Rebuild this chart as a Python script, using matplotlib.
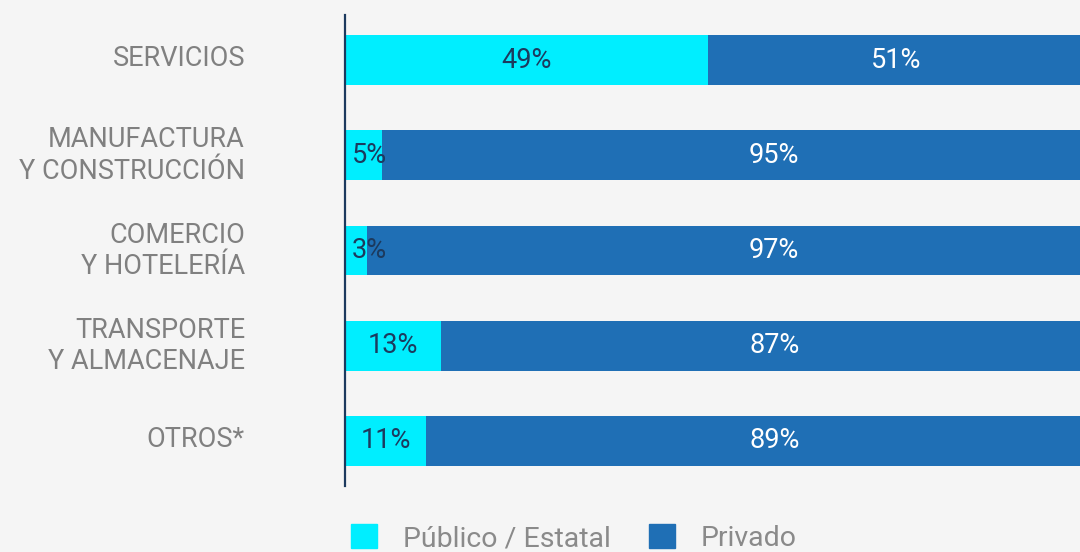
import matplotlib
matplotlib.use("Agg")
import matplotlib.pyplot as plt
from matplotlib.patches import Patch
from matplotlib.transforms import ScaledTranslation

# datos
sectores = ["SERVICIOS", "MANUFACTURA\nY CONSTRUCCIÓN", "COMERCIO\nY HOTELERÍA",
            "TRANSPORTE\nY ALMACENAJE", "OTROS*"]
publico = [49, 5, 3, 13, 11]
privado = [51, 95, 97, 87, 89]
leyenda = ["Público / Estatal", "Privado"]

CIAN = "#00eeff"
AZUL = "#1f6fb5"
NAVY = "#1c3a5e"
GRIS = "#808080"
FONDO = "#f5f5f5"

plt.rcParams["font.family"] = ["Roboto", "DejaVu Sans"]

fig = plt.figure(figsize=(10.8, 5.52), dpi=100, facecolor=FONDO)
ax = fig.add_axes([345 / 1080, 63.5 / 552, 740 / 1080, 476 / 552])
ax.set_facecolor(FONDO)

y = list(range(len(sectores)))
ax.barh(y, publico, height=0.525, color=CIAN)
ax.barh(y, privado, left=publico, height=0.525, color=AZUL)

for i in y:
    # etiquetas sector publico
    if publico[i] < 8:
        ax.text(0.9, i, f"{publico[i]}%", ha="left", va="center",
                color=NAVY, fontsize=19.5)
    else:
        ax.text(publico[i] / 2, i, f"{publico[i]}%", ha="center", va="center",
                color=NAVY, fontsize=19.5)
    # etiquetas sector privado
    xc = max(publico[i] + privado[i] / 2, 58)
    ax.text(xc, i, f"{privado[i]}%", ha="center", va="center",
            color="white", fontsize=19.5)

ax.set_xlim(0, 100)
ax.set_ylim(len(sectores) - 0.5, -0.5)
ax.set_yticks(y)
ax.set_yticklabels(sectores, fontsize=19.5, color=GRIS, linespacing=1.22)
ax.tick_params(axis="y", length=0, pad=72)
desplaza = ScaledTranslation(0, 3.5 / 72, fig.dpi_scale_trans)
for lbl in ax.get_yticklabels():
    lbl.set_transform(lbl.get_transform() + desplaza)
ax.set_xticks([])
for s in ["top", "right", "bottom"]:
    ax.spines[s].set_visible(False)
ax.spines["left"].set_color(NAVY)
ax.spines["left"].set_linewidth(1.6)
ax.spines["left"].set_bounds(len(sectores) - 0.53, -0.47)

handles = [Patch(color=CIAN), Patch(color=AZUL)]
fig.legend(handles, leyenda, loc="upper left", bbox_to_anchor=(340 / 1080, 39 / 552),
           ncol=2, frameon=False, fontsize=20.5, labelcolor="#8a8a8a",
           handlelength=0.9, handleheight=0.9, handletextpad=0.9,
           columnspacing=1.35, borderaxespad=0)

fig.savefig("out.png", dpi=100, facecolor=FONDO)
